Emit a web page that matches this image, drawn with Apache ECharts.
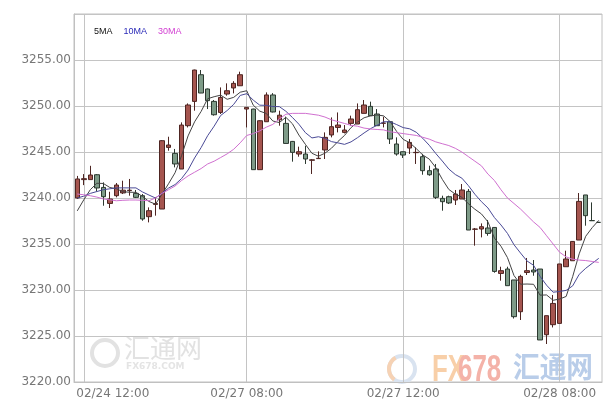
<!DOCTYPE html>
<html><head><meta charset="utf-8">
<script src="https://cdn.jsdelivr.net/npm/echarts@6/dist/echarts.min.js"></script>
<style>html,body{margin:0;padding:0;background:#fff}#c{width:610px;height:403px}</style>
</head><body><div id="c"></div>
<script>
// tick labels on the time axis (category index -> text)
const labelIndex = [1, 26, 50, 74];
const labelText = ['02/24 12:00', '02/27 08:00', '02/27 12:00', '02/28 08:00'];
const yTicks = [3220, 3260, 5];

const open  = [3240.0,3242.0,3242.0,3242.53,3241.15,3239.41,3240.25,3240.55,3240.8,3240.5,3240.25,3237.97,3239.3,3238.8,3245.5,3244.85,3243.15,3247.86,3250.5,3253.4,3251.85,3250.5,3249.3,3251.3,3251.96,3252.2,3249.67,3249.67,3243.08,3248.29,3251.2,3248.5,3248.11,3246.15,3244.78,3244.78,3244.1,3244.28,3245.22,3246.85,3247.67,3247.13,3248.11,3248.04,3249.2,3249.96,3249.13,3248.12,3248.29,3245.87,3245.03,3245.43,3244.93,3244.49,3242.97,3243.15,3239.96,3240.14,3239.78,3239.89,3240.72,3236.6,3236.63,3236.74,3236.8,3231.8,3232.28,3231.09,3227.64,3231.9,3232.17,3232.28,3225.14,3226.23,3226.37,3232.53,3233.18,3235.43,3240.33,3237.55,3237.35];
const close = [3242.07,3242.1,3242.5,3241.09,3240.14,3239.89,3241.41,3240.85,3240.85,3240.07,3237.72,3238.62,3239.4,3246.23,3245.76,3243.7,3247.93,3250.11,3253.91,3251.41,3250.58,3249.05,3250.93,3251.66,3252.46,3253.4,3249.85,3243.08,3248.4,3251.2,3249.35,3249.0,3245.93,3244.96,3245.03,3244.24,3244.15,3244.32,3246.59,3247.75,3247.93,3247.39,3248.59,3249.6,3250.11,3248.95,3247.86,3248.15,3246.41,3244.78,3244.67,3246.04,3244.96,3242.97,3242.53,3240.07,3239.6,3239.46,3240.43,3240.87,3236.52,3236.63,3236.88,3236.15,3232.02,3232.1,3230.47,3227.1,3231.48,3232.1,3231.96,3224.57,3227.21,3228.54,3232.83,3233.37,3235.28,3239.63,3238.08,3237.53,3237.35];
const low   = [3239.9,3241.4,3242.0,3240.7,3239.16,3238.91,3240.07,3240.43,3240.25,3240.0,3237.53,3237.35,3238.08,3238.8,3245.14,3243.33,3243.15,3247.67,3249.49,3251.4,3249.67,3248.95,3249.13,3251.12,3251.37,3252.2,3247.67,3243.08,3243.08,3248.29,3249.3,3247.86,3245.93,3243.95,3244.49,3243.7,3242.61,3244.25,3244.24,3246.59,3247.13,3247.02,3247.86,3248.04,3249.2,3248.95,3247.86,3247.67,3245.87,3244.6,3244.35,3244.78,3243.7,3242.53,3242.42,3239.89,3238.62,3239.35,3239.24,3239.89,3236.52,3234.82,3235.72,3235.9,3231.88,3231.01,3230.47,3226.9,3226.74,3231.63,3231.55,3224.57,3224.13,3225.93,3226.37,3232.53,3233.18,3235.43,3236.99,3237.53,3237.3];
const high  = [3242.4,3242.6,3243.5,3242.6,3241.7,3240.68,3241.63,3241.88,3242.07,3240.87,3240.43,3238.98,3240.07,3246.3,3246.66,3245.33,3248.22,3250.28,3253.95,3253.91,3251.9,3250.65,3252.02,3252.46,3252.7,3253.73,3249.9,3249.7,3248.45,3251.48,3251.4,3249.49,3248.84,3246.2,3245.58,3245.68,3244.24,3245.07,3247.13,3248.76,3249.3,3247.93,3248.95,3250.28,3250.65,3250.47,3249.67,3248.84,3248.3,3246.59,3245.05,3246.41,3245.5,3244.8,3243.51,3243.7,3240.25,3240.25,3240.87,3241.52,3240.98,3236.74,3237.24,3237.61,3236.8,3232.53,3232.53,3231.09,3231.66,3233.48,3233.26,3232.28,3227.21,3229.46,3232.83,3234.27,3235.3,3240.54,3240.33,3239.52,3237.4];

const ma5  = [3238.6,3239.8,3240.9,3241.6,3241.58,3241.14,3241.01,3240.68,3240.63,3240.61,3240.18,3239.62,3239.33,3240.41,3241.55,3242.74,3244.6,3246.75,3248.28,3249.41,3250.79,3251.01,3251.18,3250.73,3250.94,3251.5,3251.66,3250.09,3249.44,3249.19,3248.37,3248.2,3248.77,3248.08,3246.84,3245.83,3244.86,3244.54,3244.87,3245.41,3246.15,3246.8,3247.65,3248.25,3248.72,3248.93,3249.02,3248.93,3248.3,3247.23,3246.37,3246.01,3245.37,3244.68,3244.23,3243.31,3242.03,3240.93,3240.42,3240.09,3239.38,3238.78,3238.27,3237.41,3235.64,3234.76,3233.52,3231.57,3230.63,3230.65,3230.62,3229.44,3229.46,3228.88,3229.02,3229.3,3231.45,3233.93,3235.84,3236.78,3237.57];
const ma10 = [3240.0,3240.2,3240.5,3240.7,3240.9,3241.0,3241.1,3241.1,3241.1,3241.1,3240.66,3240.32,3240.0,3240.52,3241.08,3241.46,3242.11,3243.04,3244.35,3245.48,3246.77,3247.81,3248.97,3249.51,3250.18,3251.15,3251.34,3250.64,3250.09,3250.07,3249.94,3249.93,3249.43,3248.76,3248.02,3247.1,3246.53,3246.66,3246.48,3246.13,3245.99,3245.83,3246.1,3246.56,3247.07,3247.54,3247.91,3248.29,3248.28,3247.98,3247.65,3247.52,3247.15,3246.49,3245.73,3244.84,3244.02,3243.15,3242.55,3242.16,3241.35,3240.41,3239.6,3238.92,3237.87,3237.07,3236.15,3234.92,3234.02,3233.15,3232.69,3231.48,3230.52,3229.76,3229.84,3229.96,3230.45,3231.7,3232.36,3232.9,3233.44];
const ma30 = [3240.43,3240.35,3240.25,3240.1,3239.9,3239.8,3239.7,3239.75,3239.78,3239.78,3239.75,3239.7,3240.0,3240.5,3240.9,3241.3,3241.9,3242.4,3242.8,3243.2,3243.7,3244.0,3244.4,3244.8,3245.3,3246.0,3246.8,3247.0,3247.3,3247.7,3248.0,3248.6,3249.1,3249.2,3249.2,3249.2,3249.1,3249.0,3248.8,3248.5,3248.3,3248.1,3247.9,3247.8,3247.6,3247.5,3247.45,3247.4,3247.2,3247.1,3247.0,3246.9,3246.8,3246.6,3246.4,3246.1,3245.9,3245.7,3245.4,3245.0,3244.5,3244.0,3243.5,3242.6,3241.9,3240.9,3240.0,3239.4,3238.8,3238.1,3237.4,3236.8,3235.9,3235.0,3234.1,3233.6,3233.35,3233.25,3233.2,3233.1,3233.0];

const categories = open.map((_, i) => String(i));
const candles = open.map((o, i) => [o, close[i], low[i], high[i]]);
const isLabel = (i) => labelIndex.indexOf(i) >= 0;
const FONT = 'DejaVu Sans';

const chart = echarts.init(document.getElementById('c'), null, {renderer: 'canvas'});
chart.setOption({
  animation: false,
  backgroundColor: '#fff',
  legend: {
    left: 84, top: 22, itemGap: 6, itemWidth: 0, itemHeight: 0, icon: 'rect',
    selectedMode: false,
    textStyle: {fontSize: 9, fontFamily: 'Liberation Sans'},
    data: [
      {name: '5MA', textStyle: {color: '#111'}},
      {name: '10MA', textStyle: {color: '#2a2ab8'}},
      {name: '30MA', textStyle: {color: '#d23fd2'}}
    ]
  },
  grid: {left: 74, top: 14, right: 8, bottom: 21, show: true, borderColor: '#c0c0c0', borderWidth: 1},
  xAxis: {
    type: 'category', data: categories, boundaryGap: true,
    axisLine: {lineStyle: {color: '#c0c0c0'}},
    axisTick: {show: false},
    axisLabel: {
      interval: (i) => isLabel(i), margin: 6, color: '#777', fontSize: 12, fontFamily: FONT,
      formatter: (v, i) => {
        const k = labelIndex.indexOf(i);
        if (k < 0) return '';
        return k === 0 ? '{f|' + labelText[k] + '}' : labelText[k];
      },
      rich: {f: {padding: [0, 0, 0, 58], color: '#777', fontSize: 12, fontFamily: FONT}}
    },
    splitLine: {show: true, interval: (i) => isLabel(i), alignWithLabel: true, lineStyle: {color: '#c4c4c4'}}
  },
  yAxis: {
    type: 'value', min: yTicks[0], max: yTicks[1], interval: yTicks[2], scale: true,
    axisLine: {show: true, lineStyle: {color: '#c0c0c0'}},
    axisTick: {show: false},
    axisLabel: {margin: 3, color: '#777', fontSize: 12, fontFamily: FONT, showMaxLabel: false,
      formatter: (v) => v.toFixed(2)},
    splitLine: {lineStyle: {color: '#c4c4c4'}}
  },
  graphic: [
    {type: 'circle', shape: {cx: 105, cy: 353, r: 13}, style: {fill: 'none', stroke: '#e2e2e2', lineWidth: 4}, silent: true, z: 0},
    {type: 'text', left: 124, top: 335, style: {text: '汇通网', font: '26px "Noto Sans CJK SC"', fill: '#e2e2e2'}, silent: true, z: 0},
    {type: 'text', left: 126, top: 362, style: {text: 'FX678.COM', font: 'bold 9px "DejaVu Sans"', fill: '#e4e4e4'}, silent: true, z: 0},
    {type: 'circle', shape: {cx: 402, cy: 369, r: 13}, style: {fill: 'none', stroke: '#d9e3f0', lineWidth: 4}, silent: true, z: 0},
    {type: 'arc', shape: {cx: 402, cy: 369, r: 13, startAngle: 2.2, endAngle: 4.2}, style: {fill: 'none', stroke: '#f6d2b4', lineWidth: 4}, silent: true, z: 0},
    {type: 'text', x: 432, y: 352, scaleX: 0.7, style: {text: 'FX', font: 'bold 37px "Liberation Sans"', fill: '#f8cfa8'}, silent: true, z: 0},
    {type: 'text', x: 458, y: 352, scaleX: 0.7, style: {text: '678', font: 'bold 37px "Liberation Sans"', fill: '#f4b2a8'}, silent: true, z: 0},
    {type: 'text', x: 513, y: 352, scaleX: 0.92, style: {text: '汇通网', font: 'bold 29px "Noto Sans CJK SC"', fill: '#b9cde9'}, silent: true, z: 0}
  ],
  series: [
    {type: 'candlestick', name: 'K', data: candles, barWidth: 5,
      itemStyle: {color: '#a5554f', color0: '#7e9b88', borderColor: '#4e2522', borderColor0: '#2c3930', borderWidth: 1}},
    {type: 'line', name: '5MA', data: ma5, symbol: 'none', lineStyle: {width: 1, color: '#444'}, itemStyle: {color: '#444'}, z: 3},
    {type: 'line', name: '10MA', data: ma10, symbol: 'none', lineStyle: {width: 1, color: '#4a4a96'}, itemStyle: {color: '#4a4a96'}, z: 3},
    {type: 'line', name: '30MA', data: ma30, symbol: 'none', lineStyle: {width: 1, color: '#d070d0'}, itemStyle: {color: '#d070d0'}, z: 3}
  ]
});
</script></body></html>
